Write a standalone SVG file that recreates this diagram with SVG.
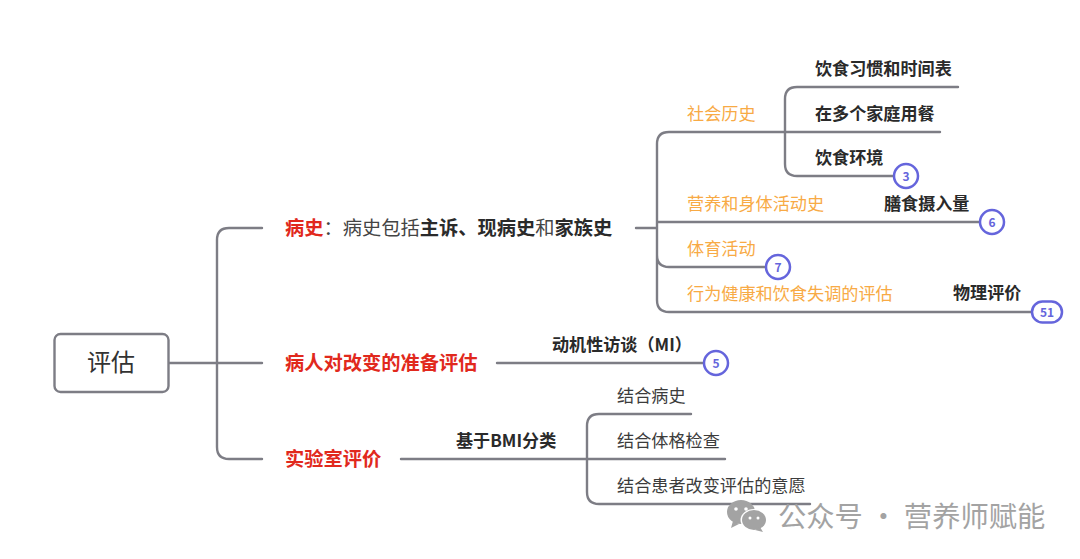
<svg xmlns="http://www.w3.org/2000/svg" width="1080" height="559" viewBox="0 0 1080 559">
<style>
text{font-family:"Noto Sans CJK SC","Noto Sans",sans-serif;fill:#333}
.l{fill:none;stroke:#7d7d85;stroke-width:2.4;stroke-linecap:round}
.red{fill:#e1291d;font-weight:700;font-size:19.250px}
.org{fill:#f8aa45;font-size:17.150px}
.blk{fill:#2a2a2a;font-weight:700;font-size:17.100px}
.pl{fill:#3c3c3c;font-size:17.150px}
.t{font-size:19.250px;fill:#444}
.s{font-size:19.250px;font-weight:700;fill:#2a2a2a}
.b{fill:#fff;stroke:#6565dc;stroke-width:2.500}
.bt{fill:#6565dc;font-weight:700;font-size:12px;text-anchor:middle}
.wm{fill:#a3a3a3}
</style>
<rect width="1080" height="559" fill="#fff"/>
<g id="connectors">
<path class="l" d="M169 363H262M262 228H229Q217 228 217 240V447Q217 459 229 459H262"/>
<path class="l" d="M636 228H657M940 132H669Q657 132 657 144V300Q657 312 669 312H1032M657 222H980M657 255Q657 267 669 267H766"/>
<path class="l" d="M958 87H797Q785 87 785 99V164Q785 176 797 176H894"/>
<path class="l" d="M497 363H704"/>
<path class="l" d="M401 459H725M691 414H599Q587 414 587 426V492Q587 504 599 504H810"/>
</g>
<g id="root"><rect x="54.500" y="334" width="114" height="58" rx="6" fill="#fff" stroke="#7d7d85" stroke-width="2.400"/><text x="111" y="371" font-size="24" text-anchor="middle" fill="#333">评估</text></g>
<g id="n-history"><text x="285" y="234.500"><tspan class="red">病史</tspan><tspan class="t">：病史包括</tspan><tspan class="s">主诉、现病史</tspan><tspan class="t">和</tspan><tspan class="s">家族史</tspan></text></g>
<g id="n-ready"><text class="red" x="285" y="369.500">病人对改变的准备评估</text></g>
<g id="n-lab"><text class="red" x="285" y="465.500">实验室评价</text></g>
<g id="n-social"><text class="org" x="687" y="119.500">社会历史</text></g>
<g id="n-nutrition"><text class="org" x="687" y="209.500">营养和身体活动史</text></g>
<g id="n-sport"><text class="org" x="687" y="254.500">体育活动</text></g>
<g id="n-behavior"><text class="org" x="687" y="299.500">行为健康和饮食失调的评估</text></g>
<g id="n-habit"><text class="blk" x="815" y="74.500">饮食习惯和时间表</text></g>
<g id="n-family"><text class="blk" x="815" y="119.500">在多个家庭用餐</text></g>
<g id="n-env"><text class="blk" x="815" y="164">饮食环境</text></g>
<g id="n-intake"><text class="blk" x="884" y="209.500">膳食摄入量</text></g>
<g id="n-physical"><text class="blk" x="953" y="299">物理评价</text></g>
<g id="n-mi"><text class="blk" x="552" y="350.500">动机性访谈（MI）</text></g>
<g id="n-bmi"><text class="blk" x="456" y="447">基于BMI分类</text></g>
<g id="n-h"><text class="pl" x="617" y="402">结合病史</text></g>
<g id="n-exam"><text class="pl" x="617" y="447">结合体格检查</text></g>
<g id="n-will"><text class="pl" x="617" y="492">结合患者改变评估的意愿</text></g>
<g id="badge-3"><circle class="b" cx="906" cy="176" r="12"/><text class="bt" x="906" y="180.500">3</text></g>
<g id="badge-6"><circle class="b" cx="992" cy="222" r="12"/><text class="bt" x="992" y="226.500">6</text></g>
<g id="badge-7"><circle class="b" cx="778" cy="267" r="12"/><text class="bt" x="778" y="271.500">7</text></g>
<g id="badge-51"><rect class="b" x="1032" y="301.500" width="30" height="21" rx="10.500"/><text class="bt" x="1047" y="316.500">51</text></g>
<g id="badge-5"><circle class="b" cx="716" cy="363" r="12"/><text class="bt" x="716" y="367.500">5</text></g>
<g id="watermark">
<ellipse class="wm" cx="741" cy="512" rx="14" ry="12"/><path class="wm" d="M733 521l-2 7 8-4z"/>
<ellipse cx="754" cy="520" rx="13.500" ry="11" fill="#fff"/><ellipse class="wm" cx="754" cy="520" rx="12" ry="10"/><path class="wm" d="M760 527l3 5-8-2z"/>
<circle cx="736" cy="509" r="1.800" fill="#fff"/><circle cx="746" cy="509" r="1.800" fill="#fff"/><circle cx="750" cy="518" r="1.500" fill="#fff"/><circle cx="758" cy="518" r="1.500" fill="#fff"/>
<text class="wm" x="778" y="526.500" font-size="28.300" style="fill:#a3a3a3">公众号 · 营养师赋能</text>
</g>
</svg>
